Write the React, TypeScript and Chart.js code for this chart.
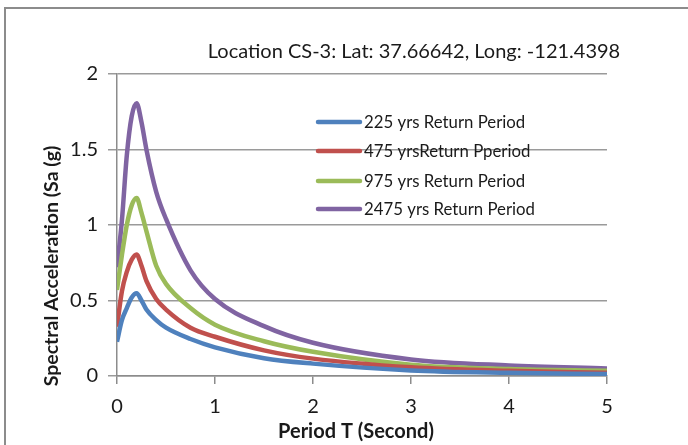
import React, { useEffect, useRef } from "react";
import { Chart, registerables } from "chart.js";

Chart.register(...registerables);

const periods = [0, 0.05, 0.1, 0.15, 0.2, 0.25, 0.3, 0.4, 0.5, 0.75, 1, 1.5, 2, 3, 4, 5];
const sa225 = [0.227, 0.37, 0.45, 0.52, 0.548, 0.5, 0.44, 0.37, 0.32, 0.245, 0.19, 0.118, 0.082, 0.037, 0.021, 0.013];
const sa475 = [0.326, 0.56, 0.69, 0.77, 0.805, 0.73, 0.63, 0.51, 0.44, 0.32, 0.26, 0.17, 0.115, 0.058, 0.034, 0.022];
const sa975 = [0.57, 0.8, 1.0, 1.13, 1.178, 1.08, 0.96, 0.73, 0.61, 0.45, 0.34, 0.23, 0.16, 0.075, 0.046, 0.035];
const sa2475 = [0.72, 1.03, 1.46, 1.72, 1.806, 1.68, 1.5, 1.22, 1.04, 0.7, 0.51, 0.33, 0.22, 0.11, 0.07, 0.05];

const seriesLabels = [
  "225 yrs Return Period",
  "475 yrsReturn Pperiod",
  "975 yrs Return Period",
  "2475 yrs Return Period",
];
const seriesColors = ["#4F81BD", "#C0504D", "#9BBB59", "#8064A2"];
const titleText = "Location CS-3: Lat: 37.66642, Long: -121.4398";
const xTitle = "Period T (Second)";
const yTitle = "Spectral Acceleration (Sa (g)";
const xTicks = [0, 1, 2, 3, 4, 5];
const yTicks = [0, 0.5, 1, 1.5, 2];

const FONT = "Lato, 'Liberation Sans', sans-serif";

const textPlugin = {
  id: "customText",
  afterDraw(chart: any) {
    const ctx = chart.ctx;
    ctx.save();
    ctx.fillStyle = "#1a1a1a";
    ctx.font = `20px ${FONT}`;
    ctx.textAlign = "center";
    ctx.textBaseline = "middle";
    ctx.fillText(titleText, 414, 52);
    ctx.font = `bold 20px ${FONT}`;
    ctx.fillText(xTitle, 356, 432);
    ctx.save();
    ctx.translate(52, 266);
    ctx.rotate(-Math.PI / 2);
    ctx.font = `bold 19.5px ${FONT}`;
    ctx.fillText(yTitle, 0, 0);
    ctx.restore();
    const rows = [122, 151, 181, 209];
    ctx.textAlign = "left";
    ctx.font = `16.8px ${FONT}`;
    seriesLabels.forEach((lab, i) => {
      ctx.strokeStyle = seriesColors[i];
      ctx.lineWidth = 4.5;
      ctx.lineCap = "round";
      ctx.beginPath();
      ctx.moveTo(318, rows[i]);
      ctx.lineTo(360, rows[i]);
      ctx.stroke();
      ctx.fillStyle = "#1a1a1a";
      ctx.fillText(lab, 364, rows[i] + 1);
    });
    ctx.restore();
  },
};

export default function App() {
  const ref = useRef<HTMLCanvasElement>(null);
  useEffect(() => {
    if (!ref.current) return;
    const chart = new Chart(ref.current, {
      type: "line",
      data: {
        datasets: [sa225, sa475, sa975, sa2475].map((arr, i) => ({
          label: seriesLabels[i],
          data: periods.map((p, j) => ({ x: p, y: arr[j] })),
          borderColor: seriesColors[i],
          backgroundColor: seriesColors[i],
          borderWidth: 4.5,
          pointRadius: 0,
          cubicInterpolationMode: "monotone" as const,
          fill: false,
        })),
      },
      options: {
        animation: false,
        responsive: false,
        maintainAspectRatio: false,
        layout: { padding: { left: 0, top: 74, right: 81, bottom: 0 } },
        plugins: { legend: { display: false }, title: { display: false }, tooltip: { enabled: false } },
        scales: {
          x: {
            type: "linear",
            min: 0,
            max: 5,
            afterFit: (s: any) => { s.height = 69; },
            afterBuildTicks: (s: any) => { s.ticks = xTicks.map((v) => ({ value: v })); },
            grid: { drawOnChartArea: false, drawTicks: true, tickLength: 8, color: "#8c8c8c", lineWidth: 1.5 },
            border: { color: "#8c8c8c", width: 1.5 },
            ticks: { font: { family: FONT, size: 20 }, color: "#1a1a1a", padding: 11, callback: (v: any) => String(v) },
          },
          y: {
            type: "linear",
            min: 0,
            max: 2,
            afterFit: (s: any) => { s.width = 117; },
            afterBuildTicks: (s: any) => { s.ticks = yTicks.map((v) => ({ value: v })); },
            grid: { drawOnChartArea: true, drawTicks: true, tickLength: 9, color: "#9a9a9a", lineWidth: 1.5 },
            border: { color: "#8c8c8c", width: 1.5 },
            ticks: { font: { family: FONT, size: 20 }, color: "#1a1a1a", padding: 10, callback: (v: any) => String(v) },
          },
        },
      },
      plugins: [textPlugin],
    });
    return () => chart.destroy();
  }, []);
  return (
    <div style={{ position: "absolute", left: 0, top: 0, width: 688, height: 445, overflow: "hidden", background: "#fff" }}>
      <div style={{ position: "absolute", left: 4, top: 7, width: 720, height: 480, border: "2px solid #8c8c8c" }} />
      <canvas ref={ref} width={688} height={445} style={{ position: "absolute", left: 0, top: 0 }} />
    </div>
  );
}
